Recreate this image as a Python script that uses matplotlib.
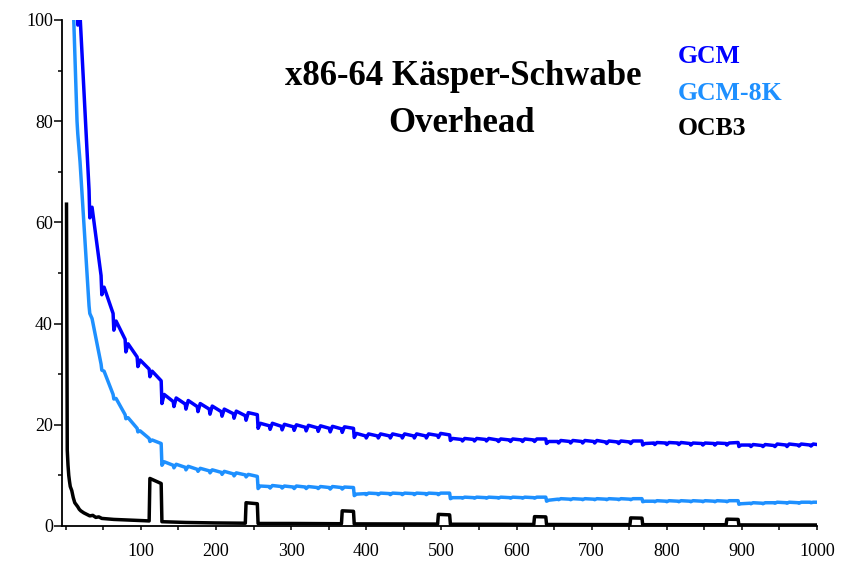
import matplotlib
matplotlib.use('Agg')

import numpy as np
import matplotlib.pyplot as plt
from matplotlib.ticker import MultipleLocator

plt.rcParams['font.family'] = ['Liberation Serif', 'DejaVu Serif']

# Block boundaries (bytes): values are read just before (b-1), at (b) and
# at the top of the tooth a few bytes after (b+3)
bounds = list(range(16, 1000, 16))

# GCM
gcm_start = (15, None)
gcm_pre = [106, 66.4, 49.5, 42.0, 36.9, 33.4, 31.0, 28.7,
           24.6, 24.1, 23.6, 23.1, 22.6, 22.2, 21.8, 22.0,
           19.8, 19.7, 19.6, 19.5, 19.4, 19.3, 19.2, 19.3,
           17.8, 17.8, 17.8, 17.8, 17.8, 17.8, 17.9, 18.0,
           17.1, 17.1, 17.1, 17.0, 17.0, 17.0, 17.0, 17.2,
           16.7, 16.7, 16.7, 16.7, 16.6, 16.6, 16.6, 16.8,
           16.4, 16.4, 16.4, 16.3, 16.3, 16.3, 16.3, 16.5,
           16.0, 15.9, 15.9, 16.0, 16.0, 16.0]
gcm_dip = [99, 60.9, 45.7, 38.7, 34.4, 31.5, 29.5, 24.2,
           23.6, 23.1, 22.6, 22.1, 21.7, 21.3, 20.9, 19.3,
           19.1, 19.0, 18.9, 18.8, 18.7, 18.6, 18.5, 17.5,
           17.4, 17.4, 17.4, 17.4, 17.4, 17.4, 17.5, 16.9,
           16.8, 16.8, 16.8, 16.7, 16.7, 16.7, 16.7, 16.3,
           16.4, 16.4, 16.4, 16.4, 16.3, 16.3, 16.3, 16.0,
           16.1, 16.1, 16.1, 16.0, 16.0, 16.0, 16.0, 15.7,
           15.7, 15.7, 15.7, 15.7, 15.8, 15.8]
gcm_peak = [101, 63.0, 47.2, 40.5, 36.0, 32.8, 30.6, 26.0,
            25.3, 24.8, 24.2, 23.7, 23.1, 22.7, 22.4, 20.3,
            20.3, 20.1, 20.0, 19.9, 19.8, 19.7, 19.6, 18.3,
            18.2, 18.2, 18.2, 18.2, 18.2, 18.2, 18.3, 17.3,
            17.3, 17.3, 17.3, 17.2, 17.2, 17.2, 17.2, 16.7,
            16.9, 16.9, 16.9, 16.9, 16.8, 16.8, 16.8, 16.3,
            16.5, 16.5, 16.5, 16.4, 16.4, 16.4, 16.4, 16.0,
            16.1, 16.1, 16.2, 16.2, 16.2, 16.2]
gcm_end = 16.1

# GCM-8K
gcm8k_start = (10, 103)
gcm8k_pre = [80, 43.5, 32.0, 26.0, 22.0, 19.3, 17.3, 16.3,
             12.0, 11.6, 11.2, 10.9, 10.6, 10.3, 10.1, 9.8,
             7.8, 7.8, 7.7, 7.7, 7.6, 7.6, 7.6, 7.6,
             6.4, 6.4, 6.4, 6.4, 6.4, 6.4, 6.4, 6.5,
             5.6, 5.6, 5.6, 5.6, 5.6, 5.6, 5.6, 5.7,
             5.3, 5.3, 5.3, 5.3, 5.3, 5.3, 5.3, 5.4,
             4.9, 4.9, 4.9, 4.9, 4.9, 4.9, 4.9, 5.0,
             4.5, 4.5, 4.6, 4.6, 4.6, 4.7]
gcm8k_dip = [77.5, 42.0, 30.8, 25.1, 21.2, 18.6, 16.7, 12.0,
             11.5, 11.1, 10.8, 10.5, 10.2, 9.9, 9.7, 7.4,
             7.5, 7.5, 7.4, 7.4, 7.4, 7.3, 7.3, 6.0,
             6.2, 6.2, 6.2, 6.2, 6.2, 6.2, 6.2, 5.4,
             5.5, 5.5, 5.5, 5.5, 5.5, 5.5, 5.5, 4.9,
             5.2, 5.2, 5.2, 5.2, 5.2, 5.2, 5.2, 4.8,
             4.8, 4.8, 4.8, 4.8, 4.8, 4.8, 4.8, 4.3,
             4.4, 4.4, 4.5, 4.5, 4.5, 4.6]
gcm8k_peak = [72.0, 41.0, 30.6, 25.2, 21.4, 18.8, 17.0, 12.7,
              12.2, 11.8, 11.4, 11.1, 10.8, 10.5, 10.2, 7.9,
              8.0, 7.9, 7.9, 7.8, 7.8, 7.8, 7.7, 6.3,
              6.5, 6.5, 6.5, 6.5, 6.5, 6.5, 6.5, 5.6,
              5.7, 5.7, 5.7, 5.7, 5.7, 5.7, 5.7, 5.1,
              5.4, 5.4, 5.4, 5.4, 5.4, 5.4, 5.4, 4.9,
              5.0, 5.0, 5.0, 5.0, 5.0, 5.0, 5.0, 4.4,
              4.6, 4.6, 4.7, 4.7, 4.7, 4.7]
gcm8k_end = 4.7

# OCB3
ocb_x = [1, 2, 3, 4, 5, 6, 8, 10, 12, 14, 16, 18, 20, 24, 28, 32, 36, 40, 44, 48,
         56, 64, 72, 80, 88, 96, 104, 111, 112, 127, 128, 160, 200, 239, 240, 255,
         256, 300, 367, 368, 383, 384, 450, 495, 496, 511, 512, 580, 623, 624, 639,
         640, 700, 751, 752, 767, 768, 830, 879, 880, 895, 896, 950, 1000]
ocb_y = [63.6, 15.0, 12.0, 10.0, 8.8, 7.8, 7.0, 5.6, 4.6, 4.2, 3.8, 3.3, 3.0, 2.6,
         2.3, 2.0, 2.1, 1.7, 1.8, 1.5, 1.4, 1.3, 1.25, 1.2, 1.15, 1.1, 1.05, 1.0,
         9.4, 8.4, 0.85, 0.7, 0.6, 0.55, 4.6, 4.4, 0.5, 0.5, 0.45, 3.0, 2.9, 0.42,
         0.4, 0.38, 2.3, 2.2, 0.35, 0.33, 0.3, 1.85, 1.8, 0.3, 0.28, 0.27, 1.6, 1.55,
         0.26, 0.25, 0.25, 1.35, 1.3, 0.22, 0.2, 0.2]

x_ticks = [100, 200, 300, 400, 500, 600, 700, 800, 900, 1000]
y_ticks = [0, 20, 40, 60, 80, 100]


def block_series(start, pre, dip, peak, end):
    xs, ys = [], []
    if start[1] is not None:
        xs.append(start[0])
        ys.append(start[1])
    for b, p, d, k in zip(bounds, pre, dip, peak):
        xs += [b - 1, b, b + 3]
        ys += [p, d, k]
    xs.append(1000)
    ys.append(end)
    return np.array(xs), np.array(ys)


fig = plt.figure(figsize=(8.46, 5.63), dpi=100)
ax = fig.add_axes([62 / 846, 37 / 563, 755 / 846, 506 / 563])

gx, gy = block_series(gcm_start, gcm_pre, gcm_dip, gcm_peak, gcm_end)
kx, ky = block_series(gcm8k_start, gcm8k_pre, gcm8k_dip, gcm8k_peak, gcm8k_end)

ax.plot(gx, gy, color='#0000ff', lw=2.5, solid_joinstyle='round')
ax.plot(kx, ky, color='#1e90ff', lw=2.5, solid_joinstyle='round')
ax.plot(ocb_x, ocb_y, color='black', lw=2.5, solid_joinstyle='round')

ax.set_xlim(-5, 1000)
ax.set_ylim(0, 100)

for s in ['top', 'right']:
    ax.spines[s].set_visible(False)
for s in ['left', 'bottom']:
    ax.spines[s].set_linewidth(1.3)

ax.set_xticks(x_ticks)
ax.set_yticks(y_ticks)
ax.xaxis.set_minor_locator(MultipleLocator(50))
ax.yaxis.set_minor_locator(MultipleLocator(10))
ax.tick_params(axis='x', which='both', direction='out', length=3, width=1.1,
               labelsize=13, pad=9)
ax.tick_params(axis='y', which='major', direction='out', length=6, width=1.1,
               labelsize=13, pad=0.5)
ax.tick_params(axis='y', which='minor', direction='out', length=3, width=1.1)

# title block
fig.text(463 / 846, (563 - 85) / 563, 'x86-64 Käsper-Schwabe', ha='center',
         va='baseline', fontsize=25, fontweight='bold')
fig.text(461 / 846, (563 - 132) / 563, 'Overhead', ha='center',
         va='baseline', fontsize=25, fontweight='bold')

# legend as coloured text
fig.text(678 / 846, (563 - 63) / 563, 'GCM', color='#0000ff', fontsize=18.5,
         fontweight='bold', va='baseline')
fig.text(678 / 846, (563 - 100) / 563, 'GCM-8K', color='#1e90ff', fontsize=18.5,
         fontweight='bold', va='baseline')
fig.text(678 / 846, (563 - 135) / 563, 'OCB3', color='black', fontsize=18.5,
         fontweight='bold', va='baseline')

fig.savefig('out.png', dpi=100)
